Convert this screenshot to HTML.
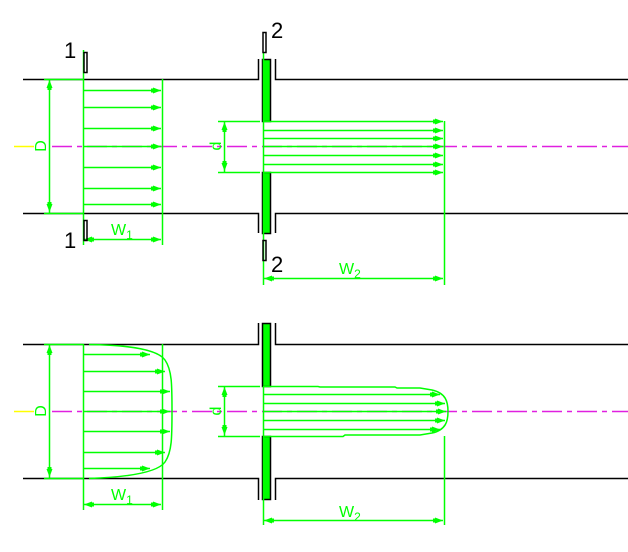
<!DOCTYPE html>
<html><head><style>html,body{margin:0;padding:0;background:#fff;}svg{display:block}</style></head>
<body>
<svg width="628" height="552" viewBox="0 0 628 552" xmlns="http://www.w3.org/2000/svg" font-family="Liberation Sans, sans-serif">
<defs>
<g id="ar"><polygon points="0,0 -8,-3 -8,3" fill="#0f0"/><rect x="-10" y="-2" width="4" height="4" fill="#0f0"/></g>
</defs>
<!-- ===== TOP ===== -->
<g fill="none" stroke-width="1.5">
<path d="M23,79.5H258.5V59 M275.5,59V79.5H628 M23,213.5H258.5V233 M275.5,233V213.5H628" stroke="#000"/>
<rect x="262.5" y="59.5" width="8" height="62" fill="#0f0" stroke="#000"/>
<rect x="262.5" y="172.5" width="8" height="61" fill="#0f0" stroke="#000"/>
<line x1="14" y1="146.5" x2="34" y2="146.5" stroke="#ff0"/>
<line x1="52" y1="146.5" x2="628" y2="146.5" stroke="#e020e0" stroke-dasharray="20,5,5,5"/>
<g stroke="#0f0">
<line x1="49.5" y1="79" x2="49.5" y2="213"/>
<line x1="44" y1="79.5" x2="83" y2="79.5"/><line x1="44" y1="213.5" x2="83" y2="213.5"/>
<line x1="83.5" y1="50" x2="83.5" y2="245"/>
<line x1="162.5" y1="79" x2="162.5" y2="245"/>
<path d="M83,90.5H161 M83,107.5H161 M83,128.5H161 M83,146.5H161 M83,167.5H161 M83,188.5H161 M83,204.5H161"/>
<line x1="84" y1="239.5" x2="161" y2="239.5"/>
<line x1="263.5" y1="52" x2="263.5" y2="285"/>
<line x1="444.5" y1="121" x2="444.5" y2="285"/>
<path d="M263,121.5H443 M263,130.5H443 M263,138.5H443 M263,146.5H443 M263,155.5H443 M263,164.5H443 M263,172.5H443"/>
<line x1="218" y1="121.5" x2="260" y2="121.5"/><line x1="218" y1="172.5" x2="260" y2="172.5"/>
<line x1="224.5" y1="121" x2="224.5" y2="172"/>
<line x1="264" y1="278.5" x2="443" y2="278.5"/>
</g>
</g>
<g>
<use href="#ar" transform="translate(161,90.5)"/><use href="#ar" transform="translate(161,107.5)"/><use href="#ar" transform="translate(161,128.5)"/><use href="#ar" transform="translate(161,146.5)"/><use href="#ar" transform="translate(161,167.5)"/><use href="#ar" transform="translate(161,188.5)"/><use href="#ar" transform="translate(161,204.5)"/>
<use href="#ar" transform="translate(443,121.5)"/><use href="#ar" transform="translate(443,130.5)"/><use href="#ar" transform="translate(443,138.5)"/><use href="#ar" transform="translate(443,146.5)"/><use href="#ar" transform="translate(443,155.5)"/><use href="#ar" transform="translate(443,164.5)"/><use href="#ar" transform="translate(443,172.5)"/>
<use href="#ar" transform="translate(49.5,80) rotate(-90)"/><use href="#ar" transform="translate(49.5,212) rotate(90)"/>
<use href="#ar" transform="translate(224.5,122) rotate(-90)"/><use href="#ar" transform="translate(224.5,171) rotate(90)"/>
<use href="#ar" transform="translate(84,239.5) rotate(180)"/><use href="#ar" transform="translate(161,239.5)"/>
<use href="#ar" transform="translate(264,278.5) rotate(180)"/><use href="#ar" transform="translate(443,278.5)"/>
</g>
<rect x="84" y="52.5" width="3" height="20" fill="none" stroke="#000" stroke-width="1.5"/>
<rect x="84" y="220.5" width="3" height="20" fill="none" stroke="#000" stroke-width="1.5"/>
<rect x="263" y="32.5" width="3" height="20" fill="none" stroke="#000" stroke-width="1.5"/>
<rect x="263" y="240.5" width="3" height="20" fill="none" stroke="#000" stroke-width="1.5"/>
<g font-size="22" fill="#000">
<text x="64" y="58">1</text><text x="64" y="248">1</text>
<text x="271" y="38">2</text><text x="271" y="272">2</text>
</g>
<g fill="#0f0" font-size="16">
<text x="111" y="235">W<tspan font-size="12" dy="4">1</tspan></text>
<text x="339" y="274">W<tspan font-size="12" dy="4">2</tspan></text>
<text transform="translate(46,146) rotate(-90)" text-anchor="middle">D</text>
<text transform="translate(221,146) rotate(-90)" text-anchor="middle">d</text>
</g>
<!-- ===== BOTTOM ===== -->
<g fill="none" stroke-width="1.5">
<path d="M23,344.5H258.5V323 M275.5,323V344.5H628 M23,478.5H258.5V500 M275.5,500V478.5H628" stroke="#000"/>
<rect x="262.5" y="323.5" width="8" height="63" fill="#0f0" stroke="#000"/>
<rect x="262.5" y="436.5" width="8" height="63" fill="#0f0" stroke="#000"/>
<line x1="14" y1="411.5" x2="34" y2="411.5" stroke="#ff0"/>
<line x1="52" y1="411.5" x2="628" y2="411.5" stroke="#e020e0" stroke-dasharray="20,5,5,5"/>
<g stroke="#0f0">
<line x1="49.5" y1="344" x2="49.5" y2="478"/>
<line x1="44" y1="344.5" x2="83" y2="344.5"/><line x1="44" y1="478.5" x2="83" y2="478.5"/>
<line x1="83.5" y1="344" x2="83.5" y2="510"/>
<line x1="162.5" y1="344" x2="162.5" y2="510"/>
<path d="M89,344.5C130,345 158,350 165,360C172,370 172,385 172,411C172,437 172,452 165,462C158,472 130,477 89,478.5"/>
<path d="M83,354.5H150 M83,371.5H165 M83,391.5H170 M83,411.5H170 M83,431.5H170 M83,452.5H165 M83,468.5H150"/>
<line x1="84" y1="504.5" x2="161" y2="504.5"/>
<line x1="263.5" y1="386" x2="263.5" y2="525"/>
<line x1="444.5" y1="436" x2="444.5" y2="525"/>
<path d="M263,386.5H318L320,387H395L397,388H420L432,390C446,393 448,402 448,411.5C448,421 446,430 432,433L420,435H345L343,436.5H263"/>
<path d="M263,394.5H440 M263,403.5H445 M263,411.5H446 M263,420.5H445 M263,429.5H440"/>
<line x1="218" y1="386.5" x2="260" y2="386.5"/><line x1="218" y1="436.5" x2="260" y2="436.5"/>
<line x1="224.5" y1="386" x2="224.5" y2="436"/>
<line x1="264" y1="520.5" x2="443" y2="520.5"/>
</g>
</g>
<g>
<use href="#ar" transform="translate(150,354.5)"/><use href="#ar" transform="translate(165,371.5)"/><use href="#ar" transform="translate(170,391.5)"/><use href="#ar" transform="translate(170,411.5)"/><use href="#ar" transform="translate(170,431.5)"/><use href="#ar" transform="translate(165,452.5)"/><use href="#ar" transform="translate(150,468.5)"/>
<use href="#ar" transform="translate(440,394.5)"/><use href="#ar" transform="translate(445,403.5)"/><use href="#ar" transform="translate(446,411.5)"/><use href="#ar" transform="translate(445,420.5)"/><use href="#ar" transform="translate(440,429.5)"/>
<use href="#ar" transform="translate(49.5,345) rotate(-90)"/><use href="#ar" transform="translate(49.5,477) rotate(90)"/>
<use href="#ar" transform="translate(224.5,387) rotate(-90)"/><use href="#ar" transform="translate(224.5,435) rotate(90)"/>
<use href="#ar" transform="translate(84,504.5) rotate(180)"/><use href="#ar" transform="translate(161,504.5)"/>
<use href="#ar" transform="translate(264,520.5) rotate(180)"/><use href="#ar" transform="translate(443,520.5)"/>
</g>
<g fill="#0f0" font-size="16">
<text x="111" y="500">W<tspan font-size="12" dy="4">1</tspan></text>
<text x="339" y="517">W<tspan font-size="12" dy="4">2</tspan></text>
<text transform="translate(46,411) rotate(-90)" text-anchor="middle">D</text>
<text transform="translate(221,411) rotate(-90)" text-anchor="middle">d</text>
</g>
</svg>
</body></html>
